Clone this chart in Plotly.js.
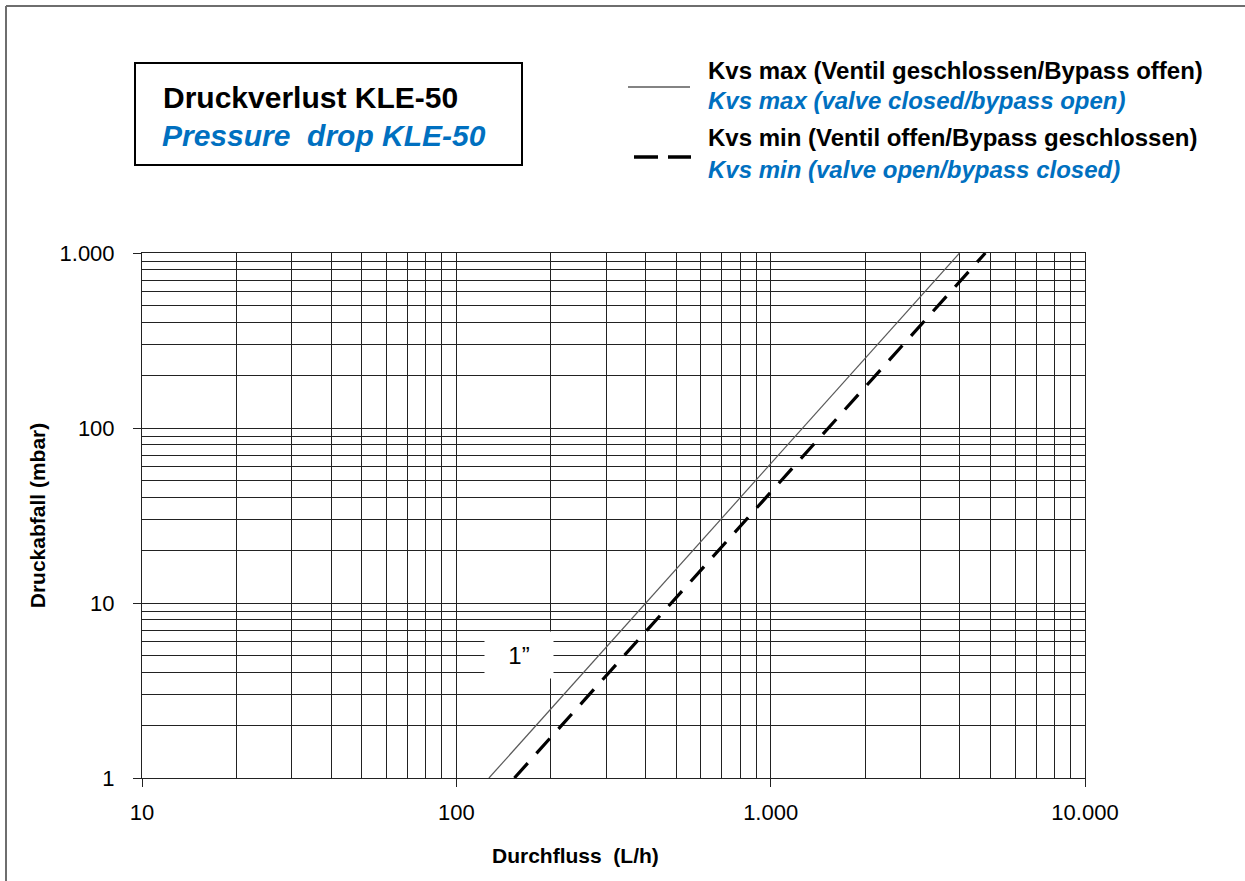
<!DOCTYPE html>
<html>
<head>
<meta charset="utf-8">
<script src="https://cdn.plot.ly/plotly-3.0.1.min.js"></script>
<style>html,body{margin:0;padding:0;background:#fff;}#chart{width:1245px;height:881px;}</style>
</head>
<body>
<div id="chart"></div>
<script>
// Data (flow in L/h, pressure drop in mbar)
const kvsMaxFlow = [127, 3990];
const kvsMaxDrop = [1, 1000];
const kvsMinFlow = [153, 4820];
const kvsMinDrop = [1, 1000];

const xTickVals = [10, 100, 1000, 10000];
const xTickText = ['10', '100', '1.000', '10.000'];
const yTickVals = [1, 10, 100, 1000];
const yTickText = ['1', '10', '100', '1.000'];

const titleDe = 'Druckverlust KLE-50';
const titleEn = 'Pressure\u00a0\u00a0drop KLE-50';
const legMaxDe = 'Kvs max (Ventil geschlossen/Bypass offen)';
const legMaxEn = 'Kvs max (valve closed/bypass open)';
const legMinDe = 'Kvs min (Ventil offen/Bypass geschlossen)';
const legMinEn = 'Kvs min (valve open/bypass closed)';
const xTitle = 'Durchfluss\u00a0\u00a0(L/h)';
const yTitle = 'Druckabfall\u00a0(mbar)';
const sizeLabel = '1\u201d';

// layout geometry
const W = 1245, H = 881;
const mL = 142, mR = 160, mT = 253, mB = 103;
const pw = W - mL - mR, ph = H - mT - mB;
const px = x => (x - mL) / pw;
const py = y => (H - mB - y) / ph;

function minorVals(lo, hi) {
  const v = [];
  for (let d = lo; d < hi; d *= 10) for (let k = 2; k <= 9; k++) v.push(k * d);
  return v;
}

const FONT = 'Liberation Sans, Arial, sans-serif';
const BLUE = '#0070c0';
const GRID = '#222';

const traces = [
  { x: kvsMaxFlow, y: kvsMaxDrop, type: 'scatter', mode: 'lines', name: 'Kvs max',
    line: { color: '#5a5a5a', width: 1.2 }, showlegend: false },
  { x: kvsMinFlow, y: kvsMinDrop, type: 'scatter', mode: 'lines', name: 'Kvs min',
    line: { color: '#000', width: 3.2, dash: '20px,13px' }, showlegend: false }
];

const axisCommon = {
  type: 'log', showgrid: true, gridcolor: GRID, gridwidth: 1,
  showline: true, linecolor: GRID, linewidth: 1, mirror: true,
  ticks: 'outside', ticklen: 8, tickcolor: GRID, tickwidth: 1,
  tickfont: { family: FONT, size: 22, color: '#000' },
  tickmode: 'array', zeroline: false, fixedrange: true
};

const layout = {
  width: W, height: H,
  margin: { l: mL, r: mR, t: mT, b: mB },
  paper_bgcolor: '#fff', plot_bgcolor: '#fff',
  showlegend: false,
  font: { family: FONT, color: '#000' },
  xaxis: Object.assign({}, axisCommon, {
    range: [1, 4], tickvals: xTickVals, ticktext: xTickText, ticklabelstandoff: 7,
    minor: { tickmode: 'array', tickvals: minorVals(10, 10000), showgrid: true, gridcolor: GRID, gridwidth: 1, ticks: '' }
  }),
  yaxis: Object.assign({}, axisCommon, {
    range: [0, 3], tickvals: yTickVals, ticktext: yTickText, ticklabelstandoff: 14,
    title: { text: '<b>' + yTitle + '</b>', font: { family: FONT, size: 21, color: '#000' }, standoff: 8 },
    minor: { tickmode: 'array', tickvals: minorVals(1, 1000), showgrid: true, gridcolor: GRID, gridwidth: 1, ticks: '' }
  }),
  shapes: [
    // outer frame (top + left)
    { type: 'line', xref: 'paper', yref: 'paper', x0: px(6), x1: px(1245), y0: py(6), y1: py(6), line: { color: '#6e6e6e', width: 2 } },
    { type: 'line', xref: 'paper', yref: 'paper', x0: px(6), x1: px(6), y0: py(6), y1: py(881), line: { color: '#6e6e6e', width: 2 } },
    // title box
    { type: 'rect', xref: 'paper', yref: 'paper', x0: px(135), x1: px(522), y0: py(165), y1: py(63), line: { color: '#000', width: 2 }, fillcolor: '#fff' },
    // legend samples
    { type: 'line', xref: 'paper', yref: 'paper', x0: px(628), x1: px(690), y0: py(87), y1: py(87), line: { color: '#5a5a5a', width: 1.3 } },
    { type: 'line', xref: 'paper', yref: 'paper', x0: px(634), x1: px(691), y0: py(157), y1: py(157), line: { color: '#000', width: 3.5, dash: '24px,10px' } }
  ],
  annotations: [
    { xref: 'paper', yref: 'paper', x: px(161), y: py(97), xanchor: 'left', yanchor: 'middle', showarrow: false,
      text: '<b>' + titleDe + '</b>', font: { family: FONT, size: 30, color: '#000' } },
    { xref: 'paper', yref: 'paper', x: px(160), y: py(135), xanchor: 'left', yanchor: 'middle', showarrow: false,
      text: '<b><i>' + titleEn + '</i></b>', font: { family: FONT, size: 30, color: BLUE } },
    { xref: 'paper', yref: 'paper', x: px(706), y: py(70), xanchor: 'left', yanchor: 'middle', showarrow: false,
      text: '<b>' + legMaxDe + '</b>', font: { family: FONT, size: 24, color: '#000' } },
    { xref: 'paper', yref: 'paper', x: px(706), y: py(100), xanchor: 'left', yanchor: 'middle', showarrow: false,
      text: '<b><i>' + legMaxEn + '</i></b>', font: { family: FONT, size: 24, color: BLUE } },
    { xref: 'paper', yref: 'paper', x: px(706), y: py(138), xanchor: 'left', yanchor: 'middle', showarrow: false,
      text: '<b>' + legMinDe + '</b>', font: { family: FONT, size: 24, color: '#000' } },
    { xref: 'paper', yref: 'paper', x: px(706), y: py(169), xanchor: 'left', yanchor: 'middle', showarrow: false,
      text: '<b><i>' + legMinEn + '</i></b>', font: { family: FONT, size: 24, color: BLUE } },
    { xref: 'paper', yref: 'paper', x: px(575), y: py(855), xanchor: 'center', yanchor: 'middle', showarrow: false,
      text: '<b>' + xTitle + '</b>', font: { family: FONT, size: 21, color: '#000' } },
    { xref: 'x', yref: 'y', x: Math.log10(158), y: Math.log10(5.05), xanchor: 'center', yanchor: 'middle', showarrow: false,
      text: sizeLabel, font: { family: FONT, size: 24, color: '#000' }, bgcolor: '#fff', width: 66, height: 44 }
  ]
};

Plotly.newPlot('chart', traces, layout, { staticPlot: true, displayModeBar: false });
</script>
</body>
</html>
